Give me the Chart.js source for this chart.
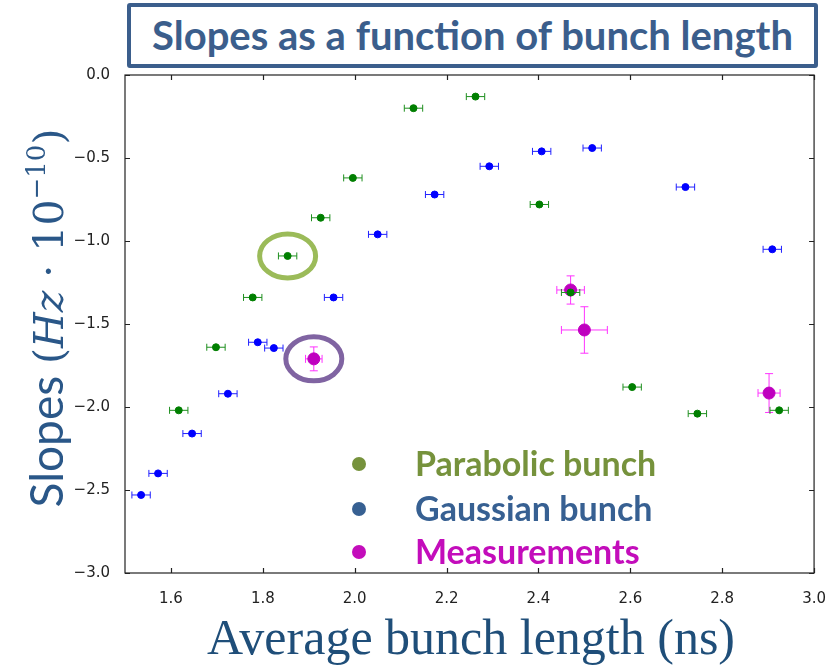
<!DOCTYPE html>
<html>
<head>
<meta charset="utf-8">
<script src="https://cdn.jsdelivr.net/npm/chart.js@4.4.1/dist/chart.umd.min.js"></script>
<style>
  body { margin: 0; background: #fff; }
  #wrap { position: relative; width: 835px; height: 666px; overflow: hidden; }
  #slopes { position: absolute; left: 0; top: 0; }
  .title {
    position: absolute; left: 127px; top: 3px; width: 691px; height: 65px;
    box-sizing: border-box; border: 4px solid #3b5e8c; border-radius: 3px; background: #fff;
    font: bold 40px Lato, "Open Sans", sans-serif; color: #3b5e8c;
    text-align: center; line-height: 56px;
  }
  .ylab {
    position: absolute; left: -177px; top: 293px; width: 440px; height: 50px; line-height: 50px;
    text-align: center; transform: rotate(-90deg); color: #2a5788; white-space: nowrap;
    font: 46px Lato, sans-serif;
  }
  .ylab .m { font-family: "DejaVu Serif", "Liberation Serif", serif; font-size: 41px; }
  .ylab sup { font-size: 26px; vertical-align: 18px; line-height: 0; }
  .xlab {
    position: absolute; left: 0; width: 942px; top: 608px; text-align: center;
    font: 50px "Liberation Serif", serif; color: #1f4e79; white-space: nowrap;
  }
  .legend { position: absolute; left: 352px; font: bold 34px Lato, sans-serif; white-space: nowrap; }
  .legend i { display: inline-block; width: 14px; height: 14px; border-radius: 50%; margin-right: 49px; vertical-align: 5px; }
</style>
</head>
<body>
<div id="wrap">
  <canvas id="slopes" width="835" height="666"></canvas>
  <div class="title">Slopes as a function of bunch length</div>
  <div class="ylab">Slopes <span class="m">(<i>Hz</i> · 10<sup>−10</sup>)</span></div>
  <div class="xlab">Average bunch length (ns)</div>
  <div class="legend" style="top:442px;color:#76923c"><i style="background:#76923c"></i>Parabolic bunch</div>
  <div class="legend" style="top:487px;color:#376092"><i style="background:#376092"></i>Gaussian bunch</div>
  <div class="legend" style="top:530px;color:#c30dbb"><i style="background:#c30dbb"></i>Measurements</div>
</div>
<script>
// simulated slopes, parabolic bunch profile
const parabolicX    = [2.128, 2.263, 1.996, 1.926, 1.854, 1.778, 1.698, 1.617, 2.402, 2.470, 2.604, 2.746, 2.924];
const parabolicY    = [-0.20, -0.13, -0.62, -0.86, -1.09, -1.34, -1.64, -2.02, -0.78, -1.31, -1.88, -2.04, -2.02];
const parabolicXErr = [0.02, 0.02, 0.02, 0.02, 0.02, 0.02, 0.02, 0.02, 0.02, 0.02, 0.02, 0.02, 0.02];

// simulated slopes, gaussian bunch profile
const gaussianX    = [1.535, 1.572, 1.646, 1.724, 1.789, 1.824, 1.954, 2.050, 2.174, 2.293, 2.407, 2.517, 2.720, 2.909];
const gaussianY    = [-2.53, -2.40, -2.16, -1.92, -1.61, -1.645, -1.34, -0.96, -0.72, -0.55, -0.46, -0.44, -0.675, -1.05];
const gaussianXErr = [0.02, 0.02, 0.02, 0.02, 0.02, 0.02, 0.02, 0.02, 0.02, 0.02, 0.02, 0.02, 0.02, 0.02];

// measured slopes
const measX    = [1.911, 2.470, 2.500, 2.902];
const measY    = [-1.71, -1.295, -1.536, -1.916];
const measXErr = [0.018, 0.030, 0.050, 0.024];
const measYErr = [0.072, 0.085, 0.140, 0.117];

const xTicks = [1.6, 1.8, 2.0, 2.2, 2.4, 2.6, 2.8, 3.0];
const yTicks = [0.0, -0.5, -1.0, -1.5, -2.0, -2.5, -3.0];

const pts = (xs, ys) => xs.map((x, i) => ({ x: x, y: ys[i] }));

// draws x/y error bars with caps right before each dataset's markers
const errorBars = {
  id: 'errorBars',
  beforeDatasetDraw(chart, args) {
    const ds = chart.data.datasets[args.index];
    if (!ds.errX) return;
    const { ctx, scales: { x, y } } = chart;
    ctx.save();
    ctx.strokeStyle = ds.errColor;
    ctx.lineWidth = 1;
    ds.data.forEach((p, i) => {
      const px = x.getPixelForValue(p.x), py = y.getPixelForValue(p.y);
      const x0 = x.getPixelForValue(p.x - ds.errX[i]), x1 = x.getPixelForValue(p.x + ds.errX[i]);
      const c = ds.capSize;
      ctx.beginPath();
      ctx.moveTo(x0, py); ctx.lineTo(x1, py);
      ctx.moveTo(x0, py - c); ctx.lineTo(x0, py + c);
      ctx.moveTo(x1, py - c); ctx.lineTo(x1, py + c);
      if (ds.errY) {
        const y0 = y.getPixelForValue(p.y - ds.errY[i]), y1 = y.getPixelForValue(p.y + ds.errY[i]);
        ctx.moveTo(px, y0); ctx.lineTo(px, y1);
        ctx.moveTo(px - c, y0); ctx.lineTo(px + c, y0);
        ctx.moveTo(px - c, y1); ctx.lineTo(px + c, y1);
      }
      ctx.stroke();
    });
    ctx.restore();
  }
};

// frame with inward ticks on all four sides, plus the two highlight ellipses
const frame = {
  id: 'frame',
  afterDatasetsDraw(chart) {
    const { ctx, chartArea: a, scales: { x, y } } = chart;
    ctx.save();
    ctx.strokeStyle = '#222';
    ctx.lineWidth = 1.2;
    ctx.strokeRect(a.left, a.top, a.right - a.left, a.bottom - a.top);
    ctx.beginPath();
    xTicks.forEach(v => {
      const px = Math.round(x.getPixelForValue(v)) + 0.5;
      ctx.moveTo(px, a.bottom); ctx.lineTo(px, a.bottom - 5);
      ctx.moveTo(px, a.top); ctx.lineTo(px, a.top + 5);
    });
    yTicks.forEach(v => {
      const py = Math.round(y.getPixelForValue(v)) + 0.5;
      ctx.moveTo(a.left, py); ctx.lineTo(a.left + 5, py);
      ctx.moveTo(a.right, py); ctx.lineTo(a.right - 5, py);
    });
    ctx.stroke();

    const ring = (vx, vy, color) => {
      ctx.beginPath();
      ctx.ellipse(x.getPixelForValue(vx), y.getPixelForValue(vy), 28, 22, 0, 0, Math.PI * 2);
      ctx.strokeStyle = color;
      ctx.lineWidth = 5;
      ctx.stroke();
    };
    ring(parabolicX[4], parabolicY[4], '#9bbb59');
    ring(measX[0], measY[0], '#8064a2');
    ctx.restore();
  }
};

new Chart(document.getElementById('slopes'), {
  type: 'scatter',
  data: {
    datasets: [
      { label: 'Parabolic bunch', data: pts(parabolicX, parabolicY), errX: parabolicXErr,
        errColor: '#1f8f1f', capSize: 3.5, backgroundColor: '#007f00', borderColor: '#007f00', pointRadius: 3.5 },
      { label: 'Gaussian bunch', data: pts(gaussianX, gaussianY), errX: gaussianXErr,
        errColor: '#2020ff', capSize: 3.5, backgroundColor: '#0000ff', borderColor: '#0000ff', pointRadius: 3.5 },
      { label: 'Measurements', data: pts(measX, measY), errX: measXErr, errY: measYErr,
        errColor: '#ff33ff', capSize: 4, backgroundColor: '#bf00bf', borderColor: '#bf00bf', pointRadius: 6 }
    ]
  },
  options: {
    responsive: false,
    animation: false,
    layout: { padding: { top: 75, right: 20, left: 0, bottom: 0 } },
    plugins: { legend: { display: false }, tooltip: { enabled: false } },
    scales: {
      x: {
        min: 1.5, max: 3.0,
        afterBuildTicks: s => { s.ticks = xTicks.map(v => ({ value: v })); },
        afterFit: s => { s.height = 93; },
        grid: { display: false }, border: { display: false },
        ticks: { padding: 9, color: '#222', font: { family: 'DejaVu Sans', size: 15 },
                 maxRotation: 0, autoSkip: false, callback: v => v.toFixed(1) }
      },
      y: {
        min: -3.0, max: 0.0,
        afterBuildTicks: s => { s.ticks = yTicks.map(v => ({ value: v })); },
        afterFit: s => { s.width = 125; },
        grid: { display: false }, border: { display: false },
        ticks: { padding: 7, color: '#222', font: { family: 'DejaVu Sans', size: 15 },
                 autoSkip: false, callback: v => v.toFixed(1).replace('-', '\u2212') }
      }
    }
  },
  plugins: [errorBars, frame]
});
</script>
</body>
</html>
